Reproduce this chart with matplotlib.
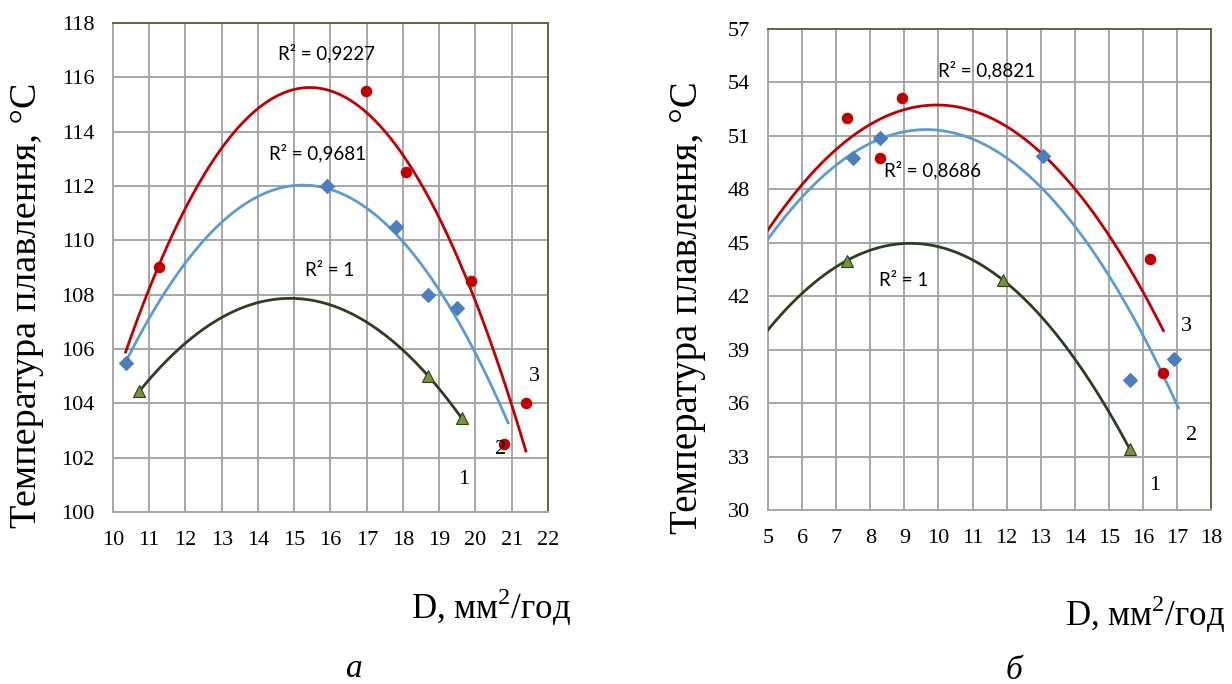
import numpy as np
import matplotlib
matplotlib.use('Agg')
import matplotlib.pyplot as plt

plt.rcParams['mathtext.fontset'] = 'custom'
plt.rcParams['mathtext.rm'] = 'Liberation Serif'

# ---- panel a ----
a_x1 = [10.73, 18.70, 19.62]
a_y1 = [104.45, 105.0, 103.45]
a_x2 = [10.35, 15.9, 17.8, 18.7, 19.5]
a_y2 = [105.5, 112.0, 110.5, 108.0, 107.5]
a_x3 = [11.27, 16.98, 18.08, 19.87, 20.8, 21.39]
a_y3 = [109.0, 115.5, 112.5, 108.5, 102.5, 104.0]
a_span = [(10.73, 19.62), (10.35, 20.9), (10.35, 21.39)]
a_r2 = ['R² = 1', 'R² = 0,9681', 'R² = 0,9227']
a_r2_pos = [(15.99, 108.9), (15.63, 113.2), (15.9, 116.9)]
a_num_pos = [(19.68, 101.2), (20.68, 102.3), (21.62, 105.0)]

# ---- panel b ----
b_x1 = [7.31, 11.9, 15.62]
b_y1 = [44.0, 42.9, 33.4]
b_x2 = [7.5, 8.29, 13.08, 15.62, 16.91]
b_y2 = [49.75, 50.9, 49.85, 37.3, 38.5]
b_x3 = [7.31, 8.29, 8.92, 16.21, 16.6]
b_y3 = [52.0, 49.75, 53.15, 44.1, 37.7]
b_span = [(5.0, 15.62), (5.0, 17.04), (5.0, 16.6)]
b_r2 = ['R² = 1', 'R² = 0,8686', 'R² = 0,8821']
b_r2_pos = [(8.99, 42.9), (9.82, 49.1), (11.42, 54.7)]
b_num_pos = [(16.36, 31.4), (17.43, 34.2), (17.28, 40.3)]

red = '#c00000'
blue_line = '#5b9bd5'
blue_mk = '#4a7ebf'
green_line = '#2b3f1d'
green_mk = '#77933c'

fig = plt.figure(figsize=(12.32, 6.84), dpi=100)
ax1 = fig.add_axes([0.0917, 0.2515, 0.3531, 0.7149])
ax2 = fig.add_axes([0.6234, 0.2544, 0.3596, 0.7032])


def panel(ax, xs, ys, spans, r2, r2pos, numpos, xlim, ylim, xticks, yticks):
    styles = [(green_line, green_mk, '^', 9), (blue_line, blue_mk, 'D', 7.5), (red, red, 'o', 7.5)]
    for k in range(3):
        lc, mc, m, ms = styles[k]
        # quadratic trend line, as in the original
        p = np.polyfit(xs[k], ys[k], 2)
        xx = np.linspace(spans[k][0], spans[k][1], 200)
        ax.plot(xx, np.polyval(p, xx), color=lc, linewidth=2.0, zorder=3)
        ax.plot(xs[k], ys[k], m, color=mc, markersize=ms,
                markeredgecolor=(green_line if k == 0 else mc), markeredgewidth=0.8, zorder=4)
        ax.text(r2pos[k][0], r2pos[k][1], r2[k], fontsize=13.5, family='Lato',
                ha='center', va='center', zorder=5)
        ax.text(numpos[k][0], numpos[k][1], str(k + 1), fontsize=16, family='Liberation Serif',
                ha='center', va='center', zorder=5)
    ax.set_xlim(xlim)
    ax.set_ylim(ylim)
    ax.set_xticks(xticks)
    ax.set_yticks(yticks)
    ax.grid(True, color='#a6a6a6', linewidth=1.4)
    ax.set_axisbelow(True)
    ax.tick_params(length=0, labelsize=16, pad=13)
    ax.tick_params(axis='x', pad=14)
    for lab in ax.get_xticklabels() + ax.get_yticklabels():
        lab.set_family('Liberation Serif')
    ax.spines['left'].set_color('#a6a6a6')
    ax.spines['bottom'].set_color('#a6a6a6')
    ax.spines['top'].set_color('#5a6648')
    ax.spines['right'].set_color('#5a6648')
    for s in ax.spines.values():
        s.set_linewidth(1.4)


panel(ax1, [a_x1, a_x2, a_x3], [a_y1, a_y2, a_y3], a_span, a_r2, a_r2_pos, a_num_pos,
      (10, 22), (100, 118), range(10, 23), range(100, 119, 2))
panel(ax2, [b_x1, b_x2, b_x3], [b_y1, b_y2, b_y3], b_span, b_r2, b_r2_pos, b_num_pos,
      (5, 18), (30, 57), range(5, 19), range(30, 58, 3))

ylab = 'Температура плавлення, °C'
fig.text(0.022, 0.553, ylab, rotation=90, fontsize=27.5, family='Liberation Serif',
         ha='center', va='center')
fig.text(0.558, 0.550, ylab, rotation=90, fontsize=28, family='Liberation Serif',
         ha='center', va='center')
xlab = 'D, мм$^{2}$/год'
fig.text(0.3985, 0.112, xlab, fontsize=25, family='Liberation Serif',
         ha='center', va='center')
fig.text(0.929, 0.102, xlab, fontsize=25, family='Liberation Serif',
         ha='center', va='center')
fig.text(0.288, 0.023, 'а', fontsize=24, family='Liberation Serif', style='italic',
         ha='center', va='center')
fig.text(0.823, 0.019, 'б', fontsize=24, family='Liberation Serif', style='italic',
         ha='center', va='center')

fig.savefig('out.png', dpi=100)
